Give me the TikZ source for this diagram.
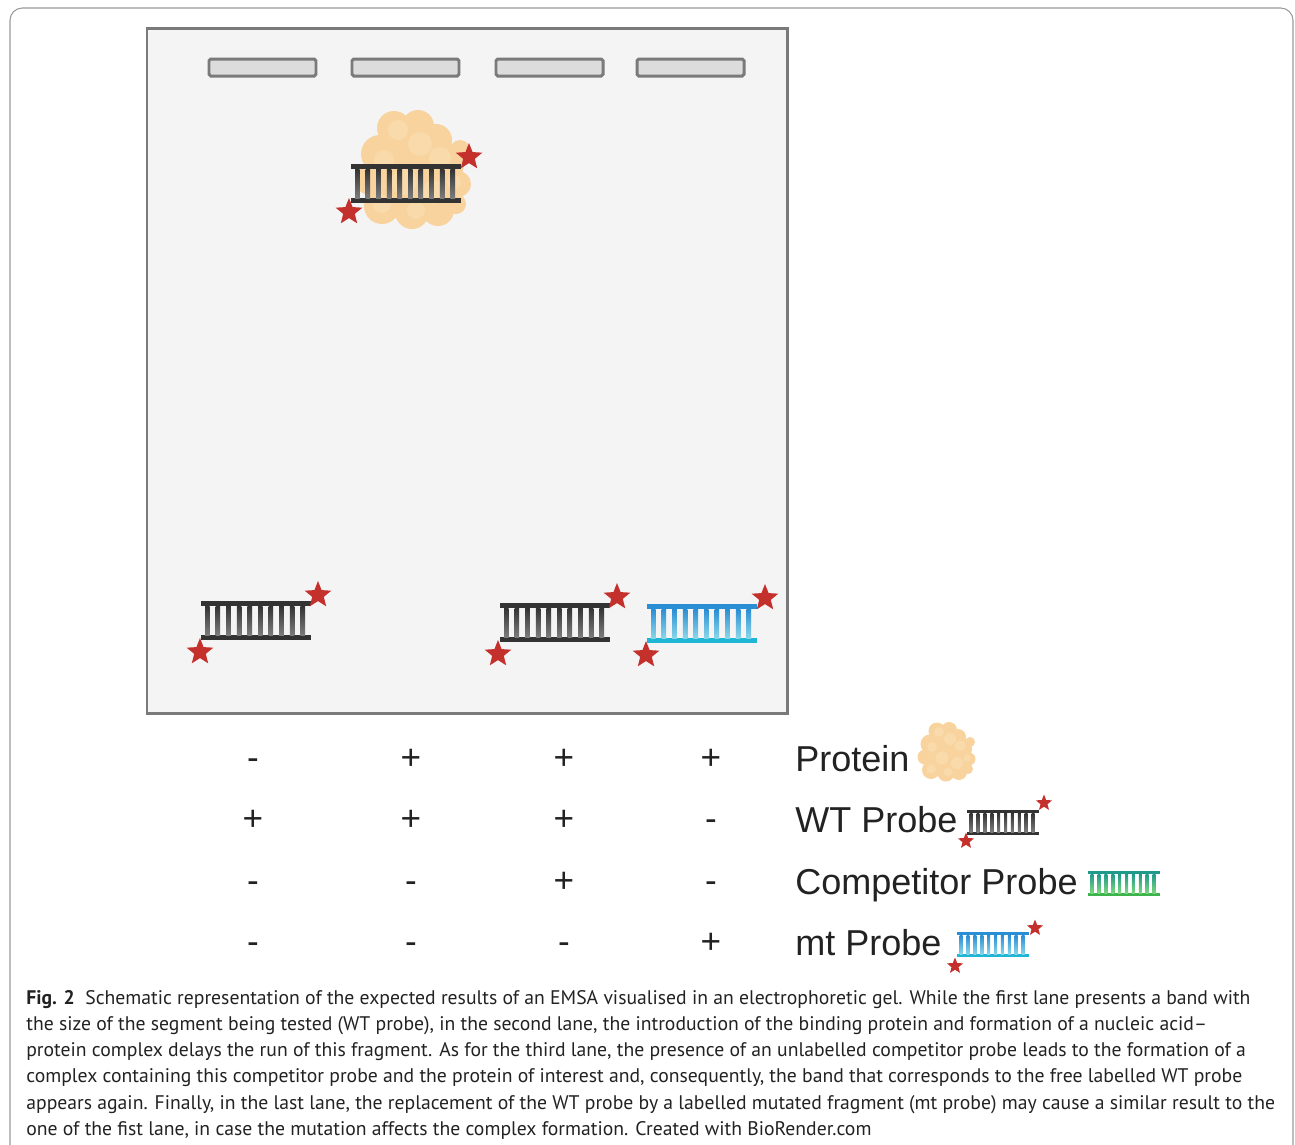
\documentclass[tikz,border=0pt]{standalone}
\usepackage{fontspec}
\setmainfont{Liberation Sans}
\newfontfamily\capfont[Ligatures=TeX]{PT Sans}
\usetikzlibrary{shapes.geometric}

\definecolor{gelgray}{HTML}{F4F4F4}
\definecolor{wellgray}{HTML}{DCDCDC}
\definecolor{edgegray}{HTML}{7A7A7A}
\definecolor{starred}{HTML}{C4302B}
\definecolor{dnadark}{HTML}{333333}
\definecolor{dnamid}{HTML}{7C7C7C}
\definecolor{mtblue}{HTML}{2A8ED4}
\definecolor{mtcyan}{HTML}{1FB6D6}
\definecolor{mtlight}{HTML}{8AD6E8}
\definecolor{compteal}{HTML}{1F9A8A}
\definecolor{compgreen}{HTML}{3CB44B}
\definecolor{complight}{HTML}{7ED67E}
\definecolor{protbase}{HTML}{F8D39E}
\definecolor{protlight}{HTML}{F9DAAB}
\definecolor{textgray}{HTML}{222222}

\tikzset{
  % labelled end of a probe
  tag/.style={star, star points=5, star point ratio=2.3, fill=starred, inner sep=0pt, minimum size=0.56cm},
  smalltag/.style={tag, minimum size=0.34cm},
  well/.style={fill=wellgray, draw=edgegray, line width=1.7pt, rounded corners=1pt},
  sign/.style={font=\fontsize{20}{24}\selectfont, text=textgray, anchor=base},
  legend/.style={font=\fontsize{20.5}{24}\selectfont, text=textgray, anchor=base west, inner sep=0pt},
  % double strand: top rail, bottom rail, rung top, rung bottom
  pics/probe/.style n args={4}{code={
    \fill[#1] (0,0) rectangle (110,5);
    \fill[#2] (0,34) rectangle (110,39);
    \foreach \i in {0,...,9}
      \shade[top color=#3, bottom color=#4] (4+\i*10.6,5) rectangle ++(4.6,29);
  }},
  % protein cloud
  pics/protein/.style={code={
    \foreach \dx/\dy/\r in {-18/-42/17, 6/-44/16, 24/-30/16, -32/-16/19, 0/-18/24,
        30/-6/22, -42/10/15, -16/14/25, 20/18/25, 46/14/13, -30/36/18, 0/42/17,
        26/40/16, 48/-20/10, 44/34/10}
      \fill[protbase] (\dx,\dy) circle (\r);
    \foreach \dx/\dy/\r in {-14/-40/10, 8/-26/12, 28/-12/11, -28/-10/10, -8/12/13,
        22/22/12, -30/34/9, 4/40/9, 42/12/7}
      \fill[protlight] (\dx,\dy) circle (\r);
  }}
}

\begin{document}
\begin{tikzpicture}[x=0.02cm, y=-0.02cm]
  \useasboundingbox (0,0) rectangle (1295,1144);
  % figure frame
  \draw[gray!80, line width=0.6pt, rounded corners=7pt] (10,8) rectangle (1293,1170);

  % gel and its wells
  \draw[fill=gelgray, draw=edgegray, line width=1.7pt] (147,28) rectangle (787,713);
  \draw[well] (209,59) rectangle (316,76);
  \draw[well] (352,59) rectangle (459,76);
  \draw[well] (496,59) rectangle (603,76);
  \draw[well] (637,59) rectangle (744,76);

  % lane 2: shifted complex
  \pic at (412,170) {protein};
  \pic at (351,164) {probe={dnadark}{dnadark}{dnadark}{dnamid}};
  \node[tag] (c1) at (469,157) {};
  \node[tag] (c2) at (349,212) {};

  % lane 1: free WT probe
  \pic at (201,601) {probe={dnadark}{dnadark}{dnadark}{dnamid}};
  \node[tag] (a1) at (318,595) {};
  \node[tag] (a2) at (200,652) {};

  % lane 3: free WT probe again
  \pic at (500,603) {probe={dnadark}{dnadark}{dnadark}{dnamid}};
  \node[tag] (b1) at (617,597) {};
  \node[tag] (b2) at (498,654) {};

  % lane 4: mt probe
  \pic at (647,604) {probe={mtblue}{mtcyan}{mtblue}{mtlight}};
  \node[tag] (d1) at (765,598) {};
  \node[tag] (d2) at (646,655) {};

  % what goes into each lane
  \node[sign] (p1) at (253,769) {-};
  \node[sign] (p2) at (411,769) {+};
  \node[sign] (p3) at (564,769) {+};
  \node[sign] (p4) at (711,769) {+};
  \node[sign] (w1) at (253,830) {+};
  \node[sign] (w2) at (411,830) {+};
  \node[sign] (w3) at (564,830) {+};
  \node[sign] (w4) at (711,830) {-};
  \node[sign] (k1) at (253,892) {-};
  \node[sign] (k2) at (411,892) {-};
  \node[sign] (k3) at (564,892) {+};
  \node[sign] (k4) at (711,892) {-};
  \node[sign] (m1) at (253,953) {-};
  \node[sign] (m2) at (411,953) {-};
  \node[sign] (m3) at (564,953) {-};
  \node[sign] (m4) at (711,953) {+};

  % legend
  \node[legend] (lprot) at (795,771) {Protein};
  \pic[scale=0.5] at (946,752) {protein};
  \node[legend] (lwt) at (795,832) {WT Probe};
  \pic[scale=0.65] at (967,810) {probe={dnadark}{dnadark}{dnadark}{dnamid}};
  \node[smalltag] (lw1) at (1044,803) {};
  \node[smalltag] (lw2) at (966,841) {};
  \node[legend] (lcomp) at (795,894) {Competitor Probe};
  \pic[scale=0.65] at (1088,871) {probe={compteal}{compgreen}{compteal}{complight}};
  \node[legend] (lmt) at (795,955) {mt Probe};
  \pic[scale=0.65] at (957,932) {probe={mtblue}{mtcyan}{mtblue}{mtlight}};
  \node[smalltag] (lm1) at (1035,928) {};
  \node[smalltag] (lm2) at (955,966) {};

  % caption
  \node[anchor=north west, inner sep=0pt, align=left, text=textgray,
        font=\capfont\fontsize{11.2}{14.9}\selectfont] (cap) at (26,990)
  {\textbf{Fig. 2}\ \ Schematic representation of the expected results of an EMSA visualised in an electrophoretic gel. While the first lane presents a band with\\
   the size of the segment being tested (WT probe), in the second lane, the introduction of the binding protein and formation of a nucleic acid\textendash\\
   protein complex delays the run of this fragment. As for the third lane, the presence of an unlabelled competitor probe leads to the formation of a\\
   complex containing this competitor probe and the protein of interest and, consequently, the band that corresponds to the free labelled WT probe\\
   appears again. Finally, in the last lane, the replacement of the WT probe by a labelled mutated fragment (mt probe) may cause a similar result to the\\
   one of the fist lane, in case the mutation affects the complex formation. Created with BioRender.com};
\end{tikzpicture}
\end{document}
